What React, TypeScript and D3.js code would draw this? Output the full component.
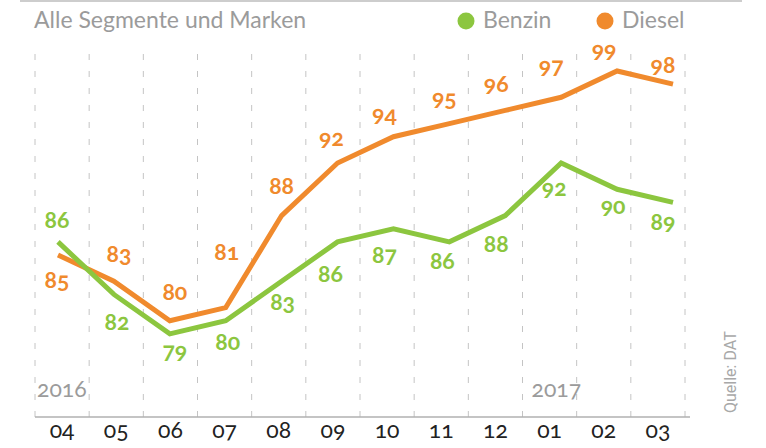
import React from "react";
import * as d3 from "d3";

const months = ["04", "05", "06", "07", "08", "09", "10", "11", "12", "01", "02", "03"];
const benzin = [86, 82, 79, 80, 83, 86, 87, 86, 88, 92, 90, 89];
const diesel = [85, 83, 80, 81, 88, 92, 94, 95, 96, 97, 99, 98];
const yearLabels = [
  { index: 0, text: "2016" },
  { index: 9, text: "2017" },
];
// label placement offsets (px) relative to each point
const benzinLabelDx = [-1, 3, 5, 2, 1, -7, -9, -7, -9, -7, -4, -10];
const benzinLabelDy = [-14, 36, 25, 29, 29, 40, 34, 27, 36, 33, 25, 28];
const dieselLabelDx = [-1, 5, 5, 1, 0, -6, -9, -5, -9, -10, -13, -10];
const dieselLabelDy = [33, -19, -21, -48, -22, -17, -15, -18, -18, -23, -13, -11];

const GREEN = "#8cc63f";
const ORANGE = "#f08a2d";
const GREY = "#9b9b9b";
const FONT = "Lato, 'Open Sans', sans-serif";

export default function App() {
  const width = 766;
  const height = 448;
  const top = 45;
  const bottom = 417;

  const xPoint = d3.scalePoint<string>().domain(months).range([58, 673]);
  const xBand = d3.scaleBand<string>().domain(months).range([35, 685]).padding(0);
  const y = d3.scaleLinear().domain([85, 99]).range([255, 71]);

  const line = d3
    .line<number>()
    .x((_, i) => xPoint(months[i]) as number)
    .y((d) => y(d));

  const gridXs = d3.range(months.length + 1).map((i) =>
    i < months.length ? (xBand(months[i]) as number) : (xBand(months[months.length - 1]) as number) + xBand.bandwidth()
  );

  const numStyle: React.CSSProperties = {
    fontVariantNumeric: "oldstyle-nums",
    fontFeatureSettings: '"onum" 1',
  };

  return (
    <svg
      width={width}
      height={height}
      style={{ position: "absolute", left: 0, top: 0, background: "#fff" }}
      fontFamily={FONT}
    >
      <line x1={20} x2={742} y1={1} y2={1} stroke="#bdbdbd" strokeWidth={1.5} />
      <text x={34} y={28} fontSize={23} fill={GREY}>
        Alle Segmente und Marken
      </text>

      {/* legend */}
      <circle cx={466} cy={21} r={8.5} fill={GREEN} />
      <text x={483} y={28} fontSize={23} fill={GREY}>
        Benzin
      </text>
      <circle cx={605} cy={21} r={8.5} fill={ORANGE} />
      <text x={622} y={28} fontSize={23} fill={GREY}>
        Diesel
      </text>

      {/* grid */}
      {gridXs.map((gx, i) => (
        <line
          key={i}
          x1={gx}
          x2={gx}
          y1={bottom}
          y2={top}
          stroke="#c4c4c4"
          strokeWidth={1}
          strokeDasharray="6 11"
        />
      ))}
      <line x1={35} x2={690} y1={bottom} y2={bottom} stroke="#b0b0b0" strokeWidth={1.5} />

      {/* year labels */}
      {yearLabels.map((yl) => (
        <text
          key={yl.text}
          x={(xBand(months[yl.index]) as number) + (yl.index === 0 ? 2 : 9)}
          y={397}
          fontSize={23}
          fill={GREY}
          style={numStyle}
        >
          {yl.text}
        </text>
      ))}

      {/* month labels */}
      {months.map((m) => (
        <text
          key={m}
          x={(xBand(m) as number) + xBand.bandwidth() / 2}
          y={438}
          fontSize={23}
          textAnchor="middle"
          fill="#222"
          style={numStyle}
        >
          {m}
        </text>
      ))}

      {/* lines */}
      <path d={line(diesel) || ""} fill="none" stroke={ORANGE} strokeWidth={5} strokeLinejoin="miter" />
      <path d={line(benzin) || ""} fill="none" stroke={GREEN} strokeWidth={5} strokeLinejoin="miter" />

      {/* value labels */}
      {benzin.map((v, i) => (
        <text
          key={"b" + i}
          x={(xPoint(months[i]) as number) + benzinLabelDx[i]}
          y={y(v) + benzinLabelDy[i]}
          fontSize={23}
          fontWeight="bold"
          textAnchor="middle"
          fill={GREEN}
          style={numStyle}
        >
          {v}
        </text>
      ))}
      {diesel.map((v, i) => (
        <text
          key={"d" + i}
          x={(xPoint(months[i]) as number) + dieselLabelDx[i]}
          y={y(v) + dieselLabelDy[i]}
          fontSize={23}
          fontWeight="bold"
          textAnchor="middle"
          fill={ORANGE}
          style={numStyle}
        >
          {v}
        </text>
      ))}

      {/* source */}
      <text
        transform="translate(736,413) rotate(-90)"
        fontSize={16}
        fill="#a8a8a8"
        fontFamily="Roboto, sans-serif"
      >
        Quelle: DAT
      </text>
    </svg>
  );
}
